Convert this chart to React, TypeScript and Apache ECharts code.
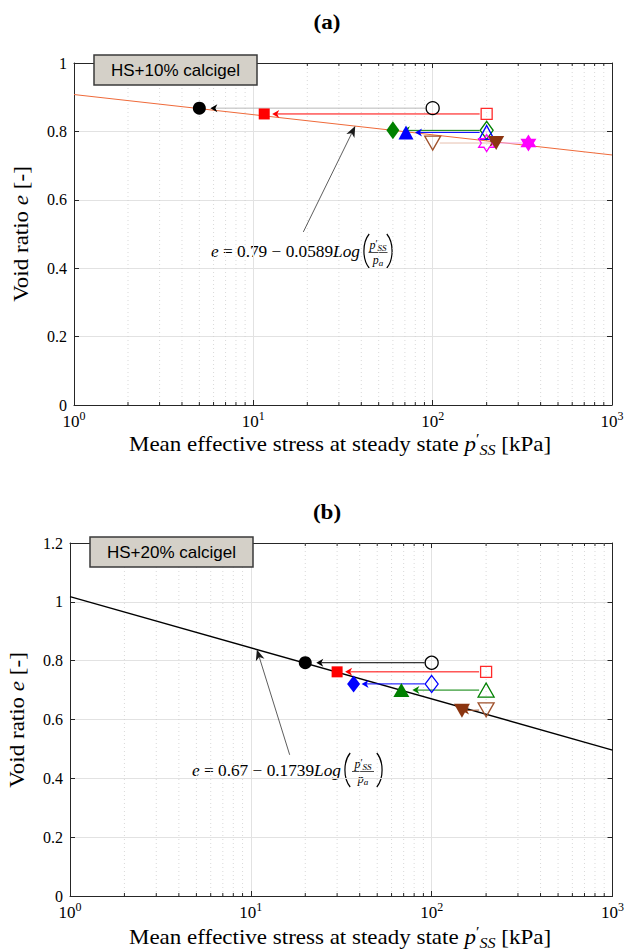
import React, { useEffect, useRef } from "react";
import * as echarts from "echarts";

const SERIF = "'Liberation Serif', 'Times New Roman', serif";
const SANS = "'Liberation Sans', Arial, sans-serif";

// ---------- data ----------
const xRange = [1, 1000];
const xDecades = [1, 10, 100];
const pa = 100;

// Panel (a): HS+10% calcigel
const groupsA = ["black", "red", "greenD", "blueT", "brown", "magenta"];
const openPA = [100, 200, 200, 200, 100, 200];
const openEA = [0.868, 0.851, 0.803, 0.797, 0.766, 0.766];
const filledPA = [5, 11.5, 60, 71, 226, 342];
const filledEA = [0.868, 0.851, 0.803, 0.797, 0.766, 0.766];
const fitA = [0.79, 0.0589];
const annTailA = [19, 0.506];
const annTipPA = 37;
const yMaxA = 1;

// Panel (b): HS+20% calcigel
const groupsB = ["black", "red", "blueD", "greenT", "brown"];
const openPB = [100, 200, 100, 200, 200];
const openEB = [0.793, 0.762, 0.721, 0.7, 0.633];
const filledPB = [20, 30, 37, 68, 147];
const filledEB = [0.793, 0.762, 0.721, 0.7, 0.63];
const fitB = [0.67, 0.1739];
const annTailB = [16.4, 0.48];
const annTipPB = 10.8;
const yMaxB = 1.2;

// ---------- styles ----------
const AX = "#262626";
const GRID = "#e2e2e2";
const MINOR = "#cfcfcf";
const HEX =
  "path://M0,-10L2.887,-5L8.66,-5L5.774,0L8.66,5L2.887,5L0,10L-2.887,5L-8.66,5L-5.774,0L-8.66,-5L-2.887,-5Z";

const STYLE: Record<string, any> = {
  black: { symbol: "circle", size: 13, color: "#000000", open: "#000000", lineA: "#b8b8b8", lineB: "#000000", gap: 11, rotate: 0 },
  red: { symbol: "rect", size: 11, color: "#ff0000", open: "#ff2a2a", lineA: "#ff0000", lineB: "#ff0000", gap: 8, rotate: 0 },
  greenD: { symbol: "diamond", size: [13, 18], color: "#008000", open: "#008000", lineA: "#008000", lineB: "#008000", gap: 10, rotate: 0 },
  blueT: { symbol: "triangle", size: [15, 14], color: "#0000ff", open: "#0000ff", lineA: "#0000ff", lineB: "#0000ff", gap: 9, rotate: 0 },
  blueD: { symbol: "diamond", size: [13, 17], color: "#0000ff", open: "#0000ff", lineA: "#0000ff", lineB: "#0000ff", gap: 8, rotate: 0 },
  greenT: { symbol: "triangle", size: [16, 14], color: "#008000", open: "#008000", lineA: "#008000", lineB: "#008000", gap: 11, rotate: 0 },
  brown: { symbol: "triangle", size: [16, 14], color: "#8b3510", open: "#a0522d", lineA: "#e6bfae", lineB: "#a0522d", gap: 0, rotate: 180 },
  magenta: { symbol: HEX, size: [16, 17], color: "#ff00ff", open: "#ff00ff", lineA: "#f5a8f5", lineB: "#f5a8f5", gap: 0, rotate: 0 },
};

function fitE(fit: number[], p: number) {
  return fit[0] - fit[1] * Math.log10(p / pa);
}

function minorXs() {
  const out: number[][] = [];
  xDecades.forEach((d) => {
    for (let m = 2; m <= 9; m++) out.push([d * m, 0]);
  });
  return out;
}

function xAxes(gridIndex: number) {
  const common = { type: "log", logBase: 10, min: xRange[0], max: xRange[1], gridIndex, z: 0 };
  const line = { show: true, onZero: false, lineStyle: { color: AX, width: 1 } };
  const tick = { show: true, inside: true, length: 5, lineStyle: { color: AX, width: 1 } };
  return [
    {
      ...common,
      position: "bottom",
      axisLine: line,
      axisTick: tick,
      axisLabel: {
        margin: 5,
        formatter: (v: number) => `{b|10}{s|${Math.round(Math.log10(v))}}`,
        rich: {
          b: { fontFamily: SERIF, fontSize: 17, color: "#000", lineHeight: 22 },
          s: { fontFamily: SERIF, fontSize: 12, color: "#000", lineHeight: 12, verticalAlign: "top" },
        },
      },
      splitLine: { show: true, lineStyle: { color: GRID, width: 1 } },
    },
    {
      ...common,
      position: "top",
      axisLine: line,
      axisTick: tick,
      axisLabel: { show: false },
      splitLine: { show: false },
    },
  ];
}

function yAxes(gridIndex: number, max: number) {
  const common = { type: "value", min: 0, max, interval: 0.2, gridIndex, z: 0 };
  const line = { show: true, onZero: false, lineStyle: { color: AX, width: 1 } };
  const tick = { show: true, inside: true, length: 5, lineStyle: { color: AX, width: 1 } };
  return [
    {
      ...common,
      position: "left",
      axisLine: line,
      axisTick: tick,
      axisLabel: {
        margin: 7,
        fontFamily: SERIF,
        fontSize: 16,
        color: "#000",
        formatter: (v: number) => String(+v.toFixed(1)),
      },
      splitLine: { show: true, lineStyle: { color: GRID, width: 1 } },
    },
    {
      ...common,
      position: "right",
      axisLine: line,
      axisTick: tick,
      axisLabel: { show: false },
      splitLine: { show: false },
    },
  ];
}

function minorSeries(axisIndex: number, yMax: number) {
  return {
    type: "custom",
    xAxisIndex: axisIndex,
    yAxisIndex: axisIndex,
    silent: true,
    z: 1,
    data: minorXs(),
    encode: { x: 0, y: 1 },
    renderItem: (params: any, api: any) => {
      const x = api.value(0);
      const pb = api.coord([x, 0]);
      const pt = api.coord([x, yMax]);
      return {
        type: "group",
        children: [
          { type: "line", shape: { x1: pb[0], y1: pb[1], x2: pt[0], y2: pt[1] }, style: { stroke: MINOR, lineWidth: 0.8, lineDash: [1, 3] } },
          { type: "line", shape: { x1: pb[0], y1: pb[1], x2: pb[0], y2: pb[1] - 3 }, style: { stroke: AX, lineWidth: 1 } },
          { type: "line", shape: { x1: pt[0], y1: pt[1], x2: pt[0], y2: pt[1] + 3 }, style: { stroke: AX, lineWidth: 1 } },
        ],
      };
    },
  };
}

function arrowSeries(
  axisIndex: number,
  data: number[][],
  headColors: string[],
  lineColors: string[],
  gaps: number[],
  startGaps: number[],
  headLen: number,
  headW: number,
  lineWidth: number,
  z: number
) {
  return {
    type: "custom",
    xAxisIndex: axisIndex,
    yAxisIndex: axisIndex,
    silent: true,
    z,
    clip: false,
    data,
    encode: { x: [0, 2], y: [1, 3] },
    renderItem: (params: any, api: any) => {
      const i = params.dataIndex;
      const p0 = api.coord([api.value(0), api.value(1)]);
      const p1 = api.coord([api.value(2), api.value(3)]);
      const dx = p1[0] - p0[0];
      const dy = p1[1] - p0[1];
      const len = Math.hypot(dx, dy) || 1;
      const ux = dx / len;
      const uy = dy / len;
      const nx = -uy;
      const ny = ux;
      const s = [p0[0] + ux * startGaps[i], p0[1] + uy * startGaps[i]];
      const tip = [p1[0] - ux * gaps[i], p1[1] - uy * gaps[i]];
      const base = [tip[0] - ux * headLen, tip[1] - uy * headLen];
      const notch = [tip[0] - ux * headLen * 0.72, tip[1] - uy * headLen * 0.72];
      return {
        type: "group",
        children: [
          { type: "line", shape: { x1: s[0], y1: s[1], x2: notch[0], y2: notch[1] }, style: { stroke: lineColors[i], lineWidth } },
          {
            type: "polygon",
            shape: {
              points: [
                tip,
                [base[0] + nx * headW, base[1] + ny * headW],
                notch,
                [base[0] - nx * headW, base[1] - ny * headW],
              ],
            },
            style: { fill: headColors[i] },
          },
        ],
      };
    },
  };
}

function scatterSeries(axisIndex: number, groups: string[], ps: number[], es: number[], filled: boolean) {
  return groups.map((g, i) => {
    const st = STYLE[g];
    return {
      type: "scatter",
      xAxisIndex: axisIndex,
      yAxisIndex: axisIndex,
      silent: true,
      z: filled ? 5 : 4,
      symbol: st.symbol,
      symbolSize: st.size,
      symbolRotate: st.rotate,
      data: [[ps[i], es[i]]],
      itemStyle: filled
        ? { color: st.color, borderWidth: 0, opacity: 1 }
        : { color: "rgba(0,0,0,0)", borderColor: st.open, borderWidth: 1.3, opacity: 1 },
    };
  });
}

function panelSeries(
  axisIndex: number,
  groups: string[],
  oP: number[],
  oE: number[],
  fP: number[],
  fE: number[],
  fit: number[],
  fitColor: string,
  fitWidth: number,
  yMax: number,
  lineKey: string,
  annTail: number[],
  annTipP: number
) {
  const arrows = groups.map((g, i) => [oP[i], oE[i], fP[i], fE[i]]);
  return [
    minorSeries(axisIndex, yMax),
    {
      type: "line",
      xAxisIndex: axisIndex,
      yAxisIndex: axisIndex,
      silent: true,
      z: 2,
      showSymbol: false,
      data: [
        [xRange[0], fitE(fit, xRange[0])],
        [xRange[1], fitE(fit, xRange[1])],
      ],
      lineStyle: { color: fitColor, width: fitWidth },
    },
    arrowSeries(
      axisIndex,
      arrows,
      groups.map((g) => STYLE[g].color),
      groups.map((g) => STYLE[g][lineKey]),
      groups.map((g) => STYLE[g].gap),
      groups.map(() => 7),
      7,
      4,
      1,
      3
    ),
    ...scatterSeries(axisIndex, groups, oP, oE, false),
    ...scatterSeries(axisIndex, groups, fP, fE, true),
    arrowSeries(
      axisIndex,
      [[annTail[0], annTail[1], annTipP, fitE(fit, annTipP)]],
      ["#1a1a1a"],
      ["#333333"],
      [0],
      [0],
      11,
      4.5,
      0.8,
      6
    ),
  ];
}

function paren(cx: number, yc: number, h: number, dir: number) {
  // dir = 1 for "(", -1 for ")"
  const bulge = 3.2 * dir;
  return {
    type: "bezierCurve",
    shape: {
      x1: cx + bulge, y1: yc - h / 2,
      cpx1: cx - bulge * 1.2, cpy1: yc - h / 4,
      cpx2: cx - bulge * 1.2, cpy2: yc + h / 4,
      x2: cx + bulge, y2: yc + h / 2,
    },
    style: { stroke: "#000", lineWidth: 1.2, fill: "none" },
  };
}

function equation(endX: number, yc: number, a: number, b: number, fracC: number, fracHalf: number, rParen: number) {
  const base = { fontFamily: SERIF, fill: "#000" };
  const fr = {
    i: { fontFamily: SERIF, fontSize: 12, fontStyle: "italic", lineHeight: 14 },
    p: { fontFamily: SERIF, fontSize: 10, lineHeight: 10, verticalAlign: "top" },
    s: { fontFamily: SERIF, fontSize: 9, fontStyle: "italic", lineHeight: 9, verticalAlign: "bottom" },
  };
  return [
    {
      type: "text",
      x: endX,
      y: yc,
      scaleX: 1.08,
      style: {
        ...base,
        text: `{i|e} = ${a} − ${b}{i|Log}`,
        fontSize: 16,
        align: "right",
        verticalAlign: "middle",
        rich: { i: { fontFamily: SERIF, fontSize: 16, fontStyle: "italic" } },
      },
    },
    paren(endX + 6, yc - 1, 34, 1),
    { type: "text", x: endX + fracC, y: yc - 7, style: { ...base, text: "{i|p}{p|′}{s|SS}", align: "center", verticalAlign: "middle", rich: fr } },
    { type: "line", shape: { x1: endX + fracC - fracHalf, y1: yc + 0.5, x2: endX + fracC + fracHalf, y2: yc + 0.5 }, style: { stroke: "#000", lineWidth: 0.7 } },
    { type: "text", x: endX + fracC, y: yc + 8, style: { ...base, text: "{i|p}{s|a}", align: "center", verticalAlign: "middle", rich: fr } },
    paren(endX + rParen, yc - 1, 34, -1),
  ];
}

function xName(cx: number, cy: number) {
  return {
    type: "text",
    x: cx,
    y: cy,
    scaleX: 1.15,
    style: {
      text: "Mean effective stress at steady state {i|p}{p|′}{s|SS} [kPa]",
      fontFamily: SERIF,
      fontSize: 20,
      fill: "#000",
      align: "center",
      verticalAlign: "middle",
      rich: {
        i: { fontFamily: SERIF, fontSize: 20, fontStyle: "italic", lineHeight: 25 },
        p: { fontFamily: SERIF, fontSize: 14, lineHeight: 14, verticalAlign: "top" },
        s: { fontFamily: SERIF, fontSize: 14, fontStyle: "italic", lineHeight: 14, verticalAlign: "bottom" },
      },
    },
  };
}

function yName(cx: number, cy: number) {
  return {
    type: "text",
    x: cx,
    y: cy,
    rotation: Math.PI / 2,
    scaleX: 1.15,
    style: {
      text: "Void ratio {i|e} [-]",
      fontFamily: SERIF,
      fontSize: 20,
      fill: "#000",
      align: "center",
      verticalAlign: "middle",
      rich: { i: { fontFamily: SERIF, fontSize: 20, fontStyle: "italic" } },
    },
  };
}

function legendBox(x: number, y: number, label: string) {
  return {
    type: "group",
    x,
    y,
    z: 100,
    children: [
      { type: "rect", z: 100, shape: { x: 0, y: 0, width: 163, height: 30 }, style: { fill: "#d4d0c8", stroke: "#3a3a3a", lineWidth: 1.5 } },
      { type: "text", z: 101, x: 81.5, y: 15.5, style: { text: label, fontFamily: SANS, fontSize: 17, fill: "#000", align: "center", verticalAlign: "middle" } },
    ],
  };
}

function buildOption() {
  return {
    animation: false,
    backgroundColor: "#ffffff",
    grid: [
      { left: 74, top: 63, width: 538, height: 342 },
      { left: 70, top: 543, width: 543, height: 353 },
    ],
    xAxis: [...xAxes(0), ...xAxes(1)],
    yAxis: [...yAxes(0, yMaxA), ...yAxes(1, yMaxB)],
    series: [
      ...panelSeries(0, groupsA, openPA, openEA, filledPA, filledEA, fitA, "#ef6a3a", 1, yMaxA, "lineA", annTailA, annTipPA),
      ...panelSeries(2, groupsB, openPB, openEB, filledPB, filledEB, fitB, "#000000", 1.4, yMaxB, "lineB", annTailB, annTipPB),
    ],
    graphic: {
      z: 100,
      elements: [
        { type: "text", x: 327, y: 22, scaleX: 1.1, style: { text: "(a)", fontFamily: SERIF, fontSize: 21, fontWeight: "bold", fill: "#000", align: "center", verticalAlign: "middle" } },
        { type: "text", x: 327, y: 512, scaleX: 1.1, style: { text: "(b)", fontFamily: SERIF, fontSize: 21, fontWeight: "bold", fill: "#000", align: "center", verticalAlign: "middle" } },
        legendBox(94, 55, "HS+10% calcigel"),
        legendBox(90, 537, "HS+20% calcigel"),
        ...equation(360, 252, fitA[0], fitA[1], 18, 9.5, 30),
        ...equation(341, 771, fitB[0], fitB[1], 22, 11, 39),
        xName(340, 445),
        xName(340, 938),
        yName(22, 234),
        yName(18, 720),
      ],
    },
  };
}

export default function App() {
  const ref = useRef<HTMLDivElement>(null);
  useEffect(() => {
    const chart = echarts.init(ref.current!, null, { renderer: "svg" });
    chart.setOption(buildOption() as any);
    return () => chart.dispose();
  }, []);
  return (
    <div
      ref={ref}
      style={{ position: "absolute", left: 0, top: 0, width: 627, height: 950, background: "#ffffff" }}
    />
  );
}
